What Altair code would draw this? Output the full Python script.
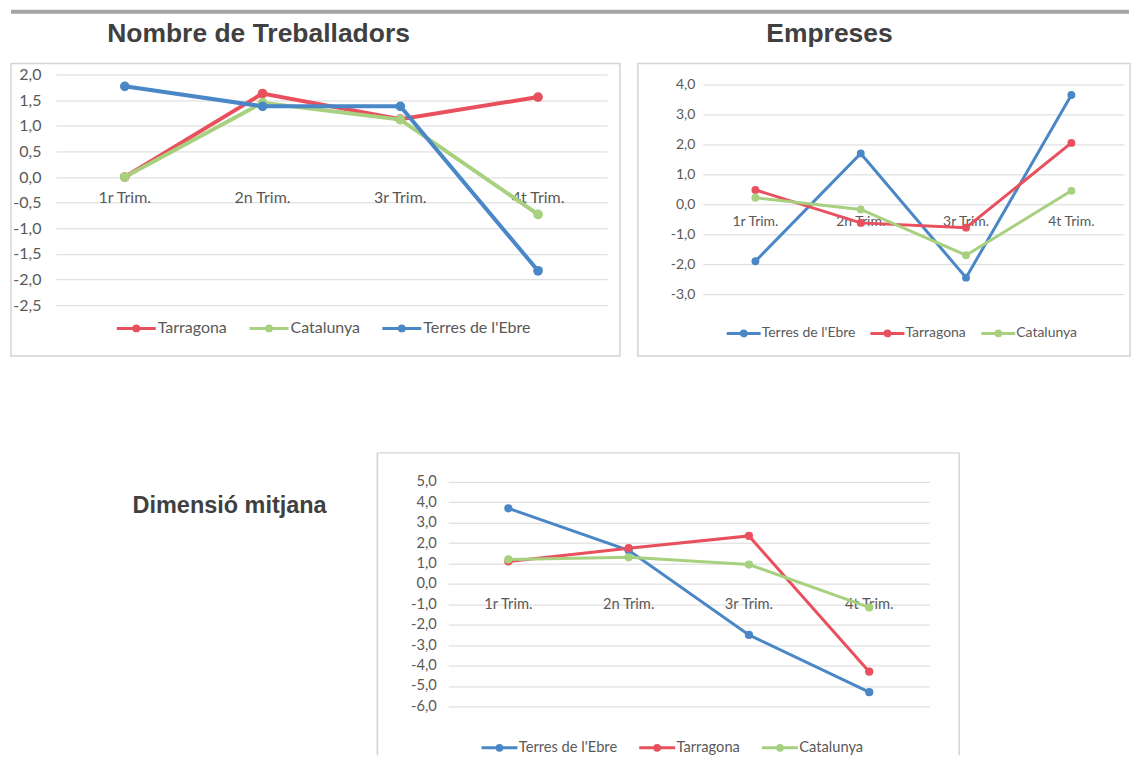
import altair as alt
import pandas as pd

# ---------------- data ----------------
QUARTERS = ["1r Trim.", "2n Trim.", "3r Trim.", "4t Trim."]
TERRES = "Terres de l'Ebre"
TARRAGONA = "Tarragona"
CATALUNYA = "Catalunya"

TITLE_TREB = "Nombre de Treballadors"
TITLE_EMP = "Empreses"
TITLE_DIM = "Dimensió mitjana"

TREB_TARRAGONA = [0.0, 1.63, 1.13, 1.56]
TREB_CATALUNYA = [0.0, 1.45, 1.12, -0.73]
TREB_TERRES = [1.77, 1.38, 1.38, -1.83]

EMP_TERRES = [-1.9, 1.7, -2.45, 3.65]
EMP_TARRAGONA = [0.48, -0.62, -0.78, 2.05]
EMP_CATALUNYA = [0.22, -0.17, -1.7, 0.45]

DIM_TERRES = [3.7, 1.65, -2.5, -5.3]
DIM_TARRAGONA = [1.1, 1.75, 2.35, -4.3]
DIM_CATALUNYA = [1.2, 1.3, 0.95, -1.15]

TICKS_TREB = [2.0, 1.5, 1.0, 0.5, 0.0, -0.5, -1.0, -1.5, -2.0, -2.5]
TICKS_EMP = [4.0, 3.0, 2.0, 1.0, 0.0, -1.0, -2.0, -3.0]
TICKS_DIM = [5.0, 4.0, 3.0, 2.0, 1.0, 0.0, -1.0, -2.0, -3.0, -4.0, -5.0, -6.0]

COLORS = {TERRES: "#4A87C7", TARRAGONA: "#E8505D", CATALUNYA: "#A7D17F"}

LABEL_FONT = "Lato"
TITLE_FONT = "Liberation Sans"
GREY_TEXT = "#595959"
GRID = "#D9D9D9"
FRAME = "#D4D4D4"

LABEL_EXPR = "(datum.value < 0 ? '-' : '') + replace(format(abs(datum.value), '.1f'), '.', ',')"


def legend_symbol(length, r):
    c = length / 2.0
    return (f"M0,0L{length},0"
            f"M{c + r},0A{r},{r} 0 1,1 {c - r},0A{r},{r} 0 1,1 {c + r},0"
            f"M{c + 0.8},0A0.8,0.8 0 1,1 {c - 0.8},0A0.8,0.8 0 1,1 {c + 0.8},0")


def one_row(text=""):
    return pd.DataFrame({"t": [text]})


def panel(order, series, ticks, domain, width, height, font, lw, pt, label_dy,
          lab_pad, leg_x, leg_y, sym_len, col_pad, frame_layers):
    rows = []
    for name in order:
        for q, v in zip(QUARTERS, series[name]):
            rows.append({"Trimestre": q, "Serie": name, "Valor": v})
    df = pd.DataFrame(rows)

    x = alt.X("Trimestre:N", sort=QUARTERS,
              scale=alt.Scale(type="point", padding=0.5), axis=None)
    y = alt.Y("Valor:Q",
              scale=alt.Scale(domain=domain, nice=False, zero=False),
              axis=alt.Axis(values=ticks, tickCount=len(ticks) + 5,
                            labelExpr=LABEL_EXPR, grid=True,
                            gridColor=GRID, gridWidth=1, domain=False,
                            ticks=False, tickSize=0, labelPadding=lab_pad,
                            labelOverlap=False, labelFlush=False,
                            labelFont=LABEL_FONT, labelFontSize=font,
                            labelColor=GREY_TEXT, title=None))
    color = alt.Color(
        "Serie:N",
        scale=alt.Scale(domain=order, range=[COLORS[s] for s in order]),
        legend=alt.Legend(orient="none", legendX=leg_x, legendY=leg_y,
                          direction="horizontal", title=None,
                          symbolType=legend_symbol(sym_len, 2.4),
                          symbolSize=4, symbolStrokeWidth=3,
                          labelFont=LABEL_FONT, labelFontSize=font,
                          labelColor=GREY_TEXT, labelOffset=sym_len - 6,
                          columnPadding=col_pad),
    )

    labels = alt.Chart(pd.DataFrame({"Trimestre": QUARTERS})).mark_text(
        font=LABEL_FONT, fontSize=font, color=GREY_TEXT, dy=label_dy,
        align="center", baseline="middle"
    ).encode(x=x, y=alt.datum(0), text="Trimestre:N")

    lines = alt.Chart(df).mark_line(
        strokeWidth=lw, point=alt.OverlayMarkDef(filled=True, size=pt, opacity=1)
    ).encode(x=x, y=y, color=color)

    return alt.layer(*frame_layers, labels, lines).properties(width=width, height=height)


def rect_frame(x1, x2, y1, y2):
    return alt.Chart(one_row()).mark_rect(
        fill="transparent", stroke=FRAME, strokeWidth=1.5
    ).encode(x=alt.value(x1), x2=alt.value(x2), y=alt.value(y1), y2=alt.value(y2))


def text_at(text, x, y, size):
    return alt.Chart(one_row(text)).mark_text(
        font=TITLE_FONT, fontWeight="bold", fontSize=size, color="#404040",
        align="center", baseline="middle"
    ).encode(x=alt.value(x), y=alt.value(y), text="t:N")


# ---------------- panel 1 ----------------
top_line = alt.Chart(one_row()).mark_rule(strokeWidth=4, color="#A5A5A8").encode(
    x=alt.value(-45), x2=alt.value(1075), y=alt.value(-63))

p1 = panel(
    [TARRAGONA, CATALUNYA, TERRES],
    {TARRAGONA: TREB_TARRAGONA, CATALUNYA: TREB_CATALUNYA, TERRES: TREB_TERRES},
    TICKS_TREB, [-2.5, 2.0], 552, 231, 16, 4, 95, 21, 15,
    53, 246, 39, 14,
    [top_line, rect_frame(-45, 565, -11, 282), text_at(TITLE_TREB, 203, -41, 26.5)],
)

# ---------------- panel 2 ----------------
p2 = panel(
    [TERRES, TARRAGONA, CATALUNYA],
    {TERRES: EMP_TERRES, TARRAGONA: EMP_TARRAGONA, CATALUNYA: EMP_CATALUNYA},
    TICKS_EMP, [-3.0, 4.0 + 1.0 / 3.0], 422, 220, 14, 3, 62, 18, 8,
    17, 252, 34, 8,
    [rect_frame(-65, 428, -11, 282), text_at(TITLE_EMP, 127, -41, 26.5)],
)

# ---------------- panel 3 ----------------
frame3 = [
    alt.Chart(one_row()).mark_rule(color=FRAME, strokeWidth=1.5).encode(
        x=alt.value(-71), y=alt.value(-29), y2=alt.value(274)),
    alt.Chart(one_row()).mark_rule(color=FRAME, strokeWidth=1.5).encode(
        x=alt.value(512), y=alt.value(-29), y2=alt.value(274)),
    alt.Chart(one_row()).mark_rule(color=FRAME, strokeWidth=1.5).encode(
        x=alt.value(-71), x2=alt.value(512), y=alt.value(-29)),
]
p3 = panel(
    [TERRES, TARRAGONA, CATALUNYA],
    {TERRES: DIM_TERRES, TARRAGONA: DIM_TARRAGONA, CATALUNYA: DIM_CATALUNYA},
    TICKS_DIM, [-6.0, 5.0], 482, 225, 14.7, 3, 68, 21, 12,
    26, 259, 36, 14,
    frame3,
)

spacer = text_at(TITLE_DIM, 174, 24, 23.5).properties(width=383, height=225)

row1 = alt.hconcat(p1, p2, spacing=96, bounds="flush").resolve_scale(
    color="independent", x="independent", y="independent")
row2 = alt.hconcat(spacer, p3, spacing=10, bounds="flush").resolve_scale(
    color="independent", x="independent", y="independent")

chart = alt.vconcat(row1, row2, spacing=408, bounds="flush").resolve_scale(
    color="independent", x="independent", y="independent"
).properties(padding=0, background="white").configure_view(stroke="transparent")

chart.save("out.html", embed_options={"renderer": "svg", "actions": False})
